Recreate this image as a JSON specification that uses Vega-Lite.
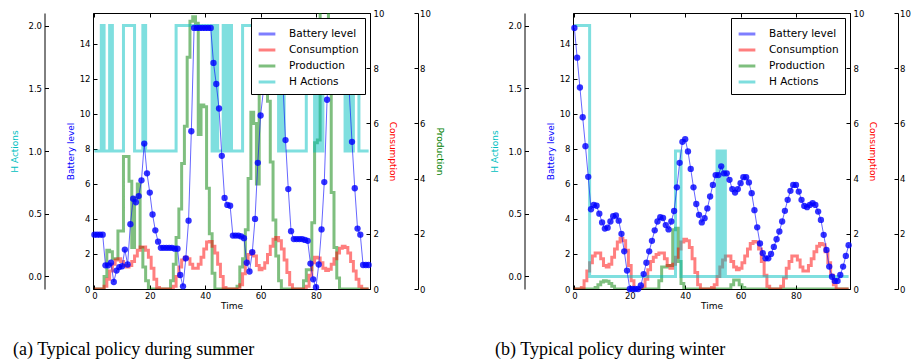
{
  "$schema": "https://vega.github.io/schema/vega-lite/v6.json",
  "padding": {"left": 10, "top": 8, "right": 0, "bottom": 0},
  "config": {
    "font": "DejaVu Sans",
    "view": {"stroke": "#000", "strokeWidth": 1},
    "axis": {"labelFont": "DejaVu Sans", "titleFont": "DejaVu Sans", "labelFontSize": 8.5, "titleFontSize": 9, "titleFontWeight": "normal", "labelColor": "#000", "titleColor": "#000", "domainColor": "#000", "tickColor": "#000", "grid": false, "tickSize": -4, "labelPadding": 7, "labelFlush": false, "domainWidth": 1, "tickWidth": 1},
    "legend": {"orient": "top-right", "offset": 5, "fillColor": "white", "strokeColor": "#000", "padding": 6, "labelFont": "DejaVu Sans", "labelFontSize": 10.5, "labelColor": "#000", "symbolType": "stroke", "symbolStrokeWidth": 3, "symbolSize": 280, "rowPadding": 0, "labelOffset": 12, "cornerRadius": 0}
  },
  "data": {"values": [
    {"s":"S","t":0,"b":3.1,"c":0,"p":0,"h":1},{"s":"S","t":1,"b":3.1,"c":0,"p":0,"h":1},{"s":"S","t":2,"b":3.1,"c":0,"p":0,"h":1},{"s":"S","t":3,"b":3.1,"c":0,"p":0,"h":2},{"s":"S","t":4,"b":1.35,"c":0.1,"p":0.45,"h":1},{"s":"S","t":5,"b":1.35,"c":0.35,"p":1.4,"h":1},{"s":"S","t":6,"b":1.5,"c":0.65,"p":1.35,"h":2},{"s":"S","t":7,"b":0.4,"c":0.9,"p":1.1,"h":1},{"s":"S","t":8,"b":1.05,"c":1.05,"p":1.1,"h":1},{"s":"S","t":9,"b":1.25,"c":1.1,"p":2.1,"h":1},
    {"s":"S","t":10,"b":1.3,"c":1.0,"p":2.1,"h":1},{"s":"S","t":11,"b":2.25,"c":0.85,"p":4.8,"h":2},{"s":"S","t":12,"b":1.4,"c":0.8,"p":4.8,"h":2},{"s":"S","t":13,"b":3.7,"c":0.85,"p":3.9,"h":2},{"s":"S","t":14,"b":5.15,"c":1.0,"p":1.5,"h":2},{"s":"S","t":15,"b":4.95,"c":1.2,"p":3.3,"h":1},{"s":"S","t":16,"b":5.3,"c":1.4,"p":3.8,"h":1},{"s":"S","t":17,"b":6.2,"c":1.52,"p":1.5,"h":1},{"s":"S","t":18,"b":8.3,"c":1.52,"p":0.8,"h":2},{"s":"S","t":19,"b":6.6,"c":1.4,"p":0.3,"h":1},
    {"s":"S","t":20,"b":5.5,"c":1.15,"p":0,"h":1},{"s":"S","t":21,"b":4.25,"c":0.75,"p":0,"h":1},{"s":"S","t":22,"b":3.35,"c":0.35,"p":0,"h":1},{"s":"S","t":23,"b":2.7,"c":0.05,"p":0,"h":1},{"s":"S","t":24,"b":2.35,"c":0,"p":0,"h":1},{"s":"S","t":25,"b":2.35,"c":0,"p":0,"h":1},{"s":"S","t":26,"b":2.35,"c":0,"p":0,"h":1},{"s":"S","t":27,"b":2.35,"c":0,"p":0,"h":1},{"s":"S","t":28,"b":2.35,"c":0,"p":0.3,"h":1},{"s":"S","t":29,"b":2.3,"c":0.1,"p":0.9,"h":1},
    {"s":"S","t":30,"b":2.3,"c":0.45,"p":1.87,"h":2},{"s":"S","t":31,"b":0.8,"c":0.8,"p":2.9,"h":2},{"s":"S","t":32,"b":0.15,"c":1.05,"p":4.55,"h":2},{"s":"S","t":33,"b":1.75,"c":1.15,"p":5.9,"h":2},{"s":"S","t":34,"b":3.9,"c":1.1,"p":8.4,"h":2},{"s":"S","t":35,"b":9.0,"c":0.9,"p":9.7,"h":2},{"s":"S","t":36,"b":14.9,"c":0.75,"p":9.86,"h":2},{"s":"S","t":37,"b":14.9,"c":0.75,"p":9.63,"h":2},{"s":"S","t":38,"b":14.9,"c":0.9,"p":5.6,"h":2},{"s":"S","t":39,"b":14.9,"c":1.15,"p":6.67,"h":2},
    {"s":"S","t":40,"b":14.9,"c":1.45,"p":6.6,"h":2},{"s":"S","t":41,"b":14.9,"c":1.7,"p":3.65,"h":2},{"s":"S","t":42,"b":14.9,"c":1.72,"p":2.0,"h":2},{"s":"S","t":43,"b":12.9,"c":1.55,"p":0.57,"h":1},{"s":"S","t":44,"b":11.7,"c":1.3,"p":0,"h":2},{"s":"S","t":45,"b":10.3,"c":0.9,"p":0,"h":1},{"s":"S","t":46,"b":7.6,"c":0.45,"p":0,"h":1},{"s":"S","t":47,"b":5.2,"c":0.05,"p":0,"h":2},{"s":"S","t":48,"b":4.8,"c":0,"p":0,"h":1},{"s":"S","t":49,"b":4.75,"c":0,"p":0,"h":2},
    {"s":"S","t":50,"b":3.05,"c":0,"p":0,"h":1},{"s":"S","t":51,"b":3.05,"c":0,"p":0,"h":1},{"s":"S","t":52,"b":3.05,"c":0,"p":0.1,"h":1},{"s":"S","t":53,"b":3.0,"c":0.15,"p":0.8,"h":1},{"s":"S","t":54,"b":2.9,"c":0.55,"p":1.1,"h":2},{"s":"S","t":55,"b":1.5,"c":0.95,"p":2.15,"h":2},{"s":"S","t":56,"b":1.0,"c":1.25,"p":4.0,"h":2},{"s":"S","t":57,"b":2.1,"c":1.35,"p":6.4,"h":2},{"s":"S","t":58,"b":4.0,"c":1.2,"p":6.0,"h":2},{"s":"S","t":59,"b":7.2,"c":0.85,"p":3.8,"h":2},
    {"s":"S","t":60,"b":9.9,"c":0.7,"p":8.1,"h":2},{"s":"S","t":61,"b":11.3,"c":0.75,"p":8.6,"h":2},{"s":"S","t":62,"b":13.5,"c":0.95,"p":8.3,"h":2},{"s":"S","t":63,"b":14.9,"c":1.25,"p":6.8,"h":2},{"s":"S","t":64,"b":14.9,"c":1.55,"p":4.6,"h":2},{"s":"S","t":65,"b":14.9,"c":1.8,"p":2.5,"h":2},{"s":"S","t":66,"b":14.9,"c":1.87,"p":1.2,"h":2},{"s":"S","t":67,"b":14.9,"c":1.75,"p":0.3,"h":1},{"s":"S","t":68,"b":12.0,"c":1.45,"p":0,"h":2},{"s":"S","t":69,"b":8.5,"c":1.05,"p":0,"h":1},
    {"s":"S","t":70,"b":5.7,"c":0.6,"p":0,"h":1},{"s":"S","t":71,"b":3.3,"c":0.15,"p":0,"h":1},{"s":"S","t":72,"b":2.85,"c":0,"p":0,"h":1},{"s":"S","t":73,"b":2.85,"c":0,"p":0,"h":1},{"s":"S","t":74,"b":2.85,"c":0,"p":0,"h":1},{"s":"S","t":75,"b":2.85,"c":0,"p":0,"h":1},{"s":"S","t":76,"b":2.8,"c":0,"p":0.3,"h":1},{"s":"S","t":77,"b":2.75,"c":0.1,"p":0.7,"h":2},{"s":"S","t":78,"b":1.45,"c":0.5,"p":0.7,"h":2},{"s":"S","t":79,"b":0.55,"c":0.95,"p":2.4,"h":2},
    {"s":"S","t":80,"b":0.1,"c":1.15,"p":5.3,"h":1},{"s":"S","t":81,"b":1.4,"c":1.12,"p":5.4,"h":2},{"s":"S","t":82,"b":3.4,"c":0.95,"p":10.5,"h":1},{"s":"S","t":83,"b":6.1,"c":0.75,"p":10.5,"h":2},{"s":"S","t":84,"b":10.8,"c":0.67,"p":10.5,"h":2},{"s":"S","t":85,"b":13.8,"c":0.72,"p":8.3,"h":2},{"s":"S","t":86,"b":14.9,"c":0.9,"p":3.5,"h":2},{"s":"S","t":87,"b":14.9,"c":1.1,"p":1.5,"h":2},{"s":"S","t":88,"b":14.9,"c":1.3,"p":0.4,"h":2},{"s":"S","t":89,"b":14.9,"c":1.48,"p":0,"h":2},
    {"s":"S","t":90,"b":14.9,"c":1.55,"p":0,"h":2},{"s":"S","t":91,"b":13.5,"c":1.5,"p":0,"h":1},{"s":"S","t":92,"b":11.3,"c":1.3,"p":0,"h":2},{"s":"S","t":93,"b":8.4,"c":1.0,"p":0,"h":1},{"s":"S","t":94,"b":5.75,"c":0.65,"p":0,"h":2},{"s":"S","t":95,"b":3.45,"c":0.35,"p":0,"h":2},{"s":"S","t":96,"b":3.1,"c":0.1,"p":0,"h":1},{"s":"S","t":97,"b":1.37,"c":0,"p":0,"h":1},{"s":"S","t":98,"b":1.37,"c":0,"p":0,"h":1},{"s":"S","t":99,"b":1.37,"c":0,"p":0,"h":1},
    {"s":"W","t":0,"b":14.9,"c":0,"p":0,"h":2},{"s":"W","t":1,"b":13.2,"c":0,"p":0,"h":2},{"s":"W","t":2,"b":11.5,"c":0,"p":0,"h":2},{"s":"W","t":3,"b":9.8,"c":0.05,"p":0,"h":2},{"s":"W","t":4,"b":8.15,"c":0.3,"p":0,"h":2},{"s":"W","t":5,"b":6.4,"c":0.65,"p":0,"h":2},{"s":"W","t":6,"b":4.55,"c":0.95,"p":0,"h":0},{"s":"W","t":7,"b":4.8,"c":1.2,"p":0,"h":0},{"s":"W","t":8,"b":4.75,"c":1.3,"p":0.05,"h":0},{"s":"W","t":9,"b":4.3,"c":1.3,"p":0.15,"h":0},
    {"s":"W","t":10,"b":3.8,"c":1.1,"p":0.25,"h":0},{"s":"W","t":11,"b":3.45,"c":0.85,"p":0.3,"h":0},{"s":"W","t":12,"b":3.5,"c":0.8,"p":0.28,"h":0},{"s":"W","t":13,"b":3.85,"c":0.9,"p":0.2,"h":0},{"s":"W","t":14,"b":4.15,"c":1.15,"p":0.1,"h":0},{"s":"W","t":15,"b":4.2,"c":1.45,"p":0,"h":0},{"s":"W","t":16,"b":3.9,"c":1.7,"p":0,"h":0},{"s":"W","t":17,"b":3.15,"c":1.84,"p":0,"h":0},{"s":"W","t":18,"b":2.15,"c":1.75,"p":0,"h":0},{"s":"W","t":19,"b":1.05,"c":1.4,"p":0,"h":0},
    {"s":"W","t":20,"b":0,"c":0.85,"p":0,"h":0},{"s":"W","t":21,"b":0,"c":0.3,"p":0,"h":0},{"s":"W","t":22,"b":0,"c":0,"p":0,"h":0},{"s":"W","t":23,"b":0,"c":0,"p":0,"h":0},{"s":"W","t":24,"b":0.2,"c":0,"p":0,"h":0},{"s":"W","t":25,"b":0.85,"c":0.1,"p":0,"h":0},{"s":"W","t":26,"b":1.5,"c":0.35,"p":0,"h":0},{"s":"W","t":27,"b":2.15,"c":0.7,"p":0,"h":0},{"s":"W","t":28,"b":2.75,"c":1.0,"p":0,"h":0},{"s":"W","t":29,"b":3.35,"c":1.15,"p":0,"h":0},
    {"s":"W","t":30,"b":3.85,"c":1.25,"p":0,"h":0},{"s":"W","t":31,"b":4.1,"c":1.3,"p":0.3,"h":0},{"s":"W","t":32,"b":4.05,"c":1.3,"p":0.8,"h":0},{"s":"W","t":33,"b":3.65,"c":1.1,"p":0.8,"h":0},{"s":"W","t":34,"b":3.4,"c":0.85,"p":0.85,"h":0},{"s":"W","t":35,"b":3.85,"c":0.75,"p":0.85,"h":0},{"s":"W","t":36,"b":4.45,"c":0.9,"p":2.15,"h":0},{"s":"W","t":37,"b":5.8,"c":1.15,"p":2.2,"h":1},{"s":"W","t":38,"b":7.2,"c":1.45,"p":1.0,"h":1},{"s":"W","t":39,"b":8.4,"c":1.7,"p":0.2,"h":0},
    {"s":"W","t":40,"b":8.55,"c":1.8,"p":0,"h":0},{"s":"W","t":41,"b":7.85,"c":1.75,"p":0,"h":0},{"s":"W","t":42,"b":6.85,"c":1.5,"p":0,"h":0},{"s":"W","t":43,"b":5.8,"c":1.1,"p":0,"h":0},{"s":"W","t":44,"b":4.85,"c":0.6,"p":0,"h":0},{"s":"W","t":45,"b":4.23,"c":0.15,"p":0,"h":0},{"s":"W","t":46,"b":3.8,"c":0,"p":0,"h":0},{"s":"W","t":47,"b":4.04,"c":0,"p":0,"h":0},{"s":"W","t":48,"b":4.6,"c":0,"p":0,"h":0},{"s":"W","t":49,"b":5.28,"c":0,"p":0,"h":0},
    {"s":"W","t":50,"b":5.94,"c":0.05,"p":0,"h":0},{"s":"W","t":51,"b":6.5,"c":0.15,"p":0,"h":0},{"s":"W","t":52,"b":6.5,"c":0.45,"p":0,"h":1},{"s":"W","t":53,"b":7.0,"c":0.8,"p":0,"h":0},{"s":"W","t":54,"b":6.6,"c":1.05,"p":0,"h":1},{"s":"W","t":55,"b":6.6,"c":1.2,"p":0,"h":0},{"s":"W","t":56,"b":6.23,"c":1.2,"p":0,"h":0},{"s":"W","t":57,"b":5.7,"c":1.0,"p":0.15,"h":0},{"s":"W","t":58,"b":5.5,"c":0.8,"p":0.33,"h":0},{"s":"W","t":59,"b":5.7,"c":0.7,"p":0.33,"h":0},
    {"s":"W","t":60,"b":6.04,"c":0.75,"p":0.15,"h":0},{"s":"W","t":61,"b":6.38,"c":0.95,"p":0.05,"h":0},{"s":"W","t":62,"b":6.38,"c":1.2,"p":0,"h":0},{"s":"W","t":63,"b":6.08,"c":1.45,"p":0,"h":0},{"s":"W","t":64,"b":5.47,"c":1.65,"p":0,"h":0},{"s":"W","t":65,"b":4.5,"c":1.72,"p":0,"h":0},{"s":"W","t":66,"b":3.52,"c":1.7,"p":0,"h":0},{"s":"W","t":67,"b":2.6,"c":1.45,"p":0,"h":0},{"s":"W","t":68,"b":2.04,"c":1.0,"p":0,"h":0},{"s":"W","t":69,"b":1.75,"c":0.5,"p":0,"h":0},
    {"s":"W","t":70,"b":1.75,"c":0.1,"p":0,"h":0},{"s":"W","t":71,"b":2.0,"c":0,"p":0,"h":0},{"s":"W","t":72,"b":2.4,"c":0,"p":0,"h":0},{"s":"W","t":73,"b":2.84,"c":0,"p":0,"h":0},{"s":"W","t":74,"b":3.28,"c":0,"p":0,"h":0},{"s":"W","t":75,"b":3.85,"c":0.1,"p":0,"h":0},{"s":"W","t":76,"b":4.46,"c":0.4,"p":0,"h":0},{"s":"W","t":77,"b":5.09,"c":0.75,"p":0,"h":0},{"s":"W","t":78,"b":5.6,"c":1.0,"p":0,"h":0},{"s":"W","t":79,"b":5.94,"c":1.2,"p":0,"h":0},
    {"s":"W","t":80,"b":5.94,"c":1.2,"p":0,"h":0},{"s":"W","t":81,"b":5.56,"c":1.05,"p":0,"h":0},{"s":"W","t":82,"b":5.09,"c":0.8,"p":0,"h":0},{"s":"W","t":83,"b":4.74,"c":0.65,"p":0,"h":0},{"s":"W","t":84,"b":4.67,"c":0.65,"p":0,"h":0},{"s":"W","t":85,"b":4.8,"c":0.85,"p":0,"h":0},{"s":"W","t":86,"b":4.9,"c":1.1,"p":0,"h":0},{"s":"W","t":87,"b":4.8,"c":1.35,"p":0,"h":0},{"s":"W","t":88,"b":4.42,"c":1.55,"p":0,"h":0},{"s":"W","t":89,"b":3.94,"c":1.65,"p":0,"h":0},
    {"s":"W","t":90,"b":3.09,"c":1.6,"p":0,"h":0},{"s":"W","t":91,"b":2.23,"c":1.35,"p":0,"h":0},{"s":"W","t":92,"b":1.28,"c":0.95,"p":0,"h":0},{"s":"W","t":93,"b":0.7,"c":0.5,"p":0,"h":0},{"s":"W","t":94,"b":0.46,"c":0.15,"p":0,"h":0},{"s":"W","t":95,"b":0.46,"c":0,"p":0,"h":0},{"s":"W","t":96,"b":0.8,"c":0,"p":0,"h":0},{"s":"W","t":97,"b":1.28,"c":0,"p":0,"h":0},{"s":"W","t":98,"b":1.89,"c":0,"p":0,"h":0},{"s":"W","t":99,"b":2.5,"c":0,"p":0,"h":0}
  ]},
  "spacing": 46,
  "resolve": {"legend": {"color": "independent"}},
  "hconcat": [
    {
      "width": 277, "height": 276,
      "title": {"text": "(a) Typical policy during summer", "orient": "bottom", "anchor": "start", "frame": "bounds", "font": "Liberation Serif", "fontSize": 18, "fontWeight": "normal", "color": "#000", "offset": 30, "dx": 2},
      "transform": [{"filter": "datum.s === 'S'"}],
      "resolve": {"scale": {"y": "independent"}, "axis": {"y": "independent", "x": "independent"}},
      "layer": [
        {
          "mark": {"type": "line", "interpolate": "step", "strokeWidth": 3, "opacity": 0.5, "clip": true},
          "encoding": {
            "x": {"field": "t", "type": "quantitative", "scale": {"domain": [-0.5, 99.5], "nice": false, "zero": false}, "axis": {"values": [0, 20, 40, 60, 80], "title": "Time", "titlePadding": 2, "labelPadding": 6}},
            "y": {"field": "p", "type": "quantitative", "scale": {"domain": [0, 10], "nice": false}, "axis": {"orient": "right", "offset": 48, "values": [0, 2, 4, 6, 8, 10], "title": "Production", "titleColor": "#008000", "titlePadding": 4, "labelPadding": 5.5}},
            "color": {"datum": "Production", "scale": {"domain": ["Battery level", "Consumption", "Production", "H Actions"], "range": ["#0000ff", "#ff0000", "#008000", "#00bfbf"]},
              "legend": {"title": null, "encode": {"symbols": {
                  "shape": {"condition": {"test": "datum.index === 0", "value": "M-1,0L1,0M-1,0a0.3,0.3 0 1,0 0.6,0a0.3,0.3 0 1,0 -0.6,0M0.4,0a0.3,0.3 0 1,0 0.6,0a0.3,0.3 0 1,0 -0.6,0"}, "value": "stroke"},
                  "fill": {"condition": {"test": "datum.index === 0", "value": "#0000ff"}, "value": "transparent"},
                  "strokeWidth": {"condition": {"test": "datum.index === 0", "value": 1.2}, "value": 3}}}}}
          }
        },
        {
          "mark": {"type": "line", "interpolate": "step", "strokeWidth": 3, "opacity": 0.5, "clip": true},
          "encoding": {
            "x": {"field": "t", "type": "quantitative", "axis": {"orient": "top", "values": [0, 20, 40, 60, 80], "labels": false, "title": null, "domain": false}},
            "y": {"field": "c", "type": "quantitative", "scale": {"domain": [0, 10], "nice": false}, "axis": {"orient": "right", "offset": 0, "values": [0, 2, 4, 6, 8, 10], "title": "Consumption", "titleColor": "#ff0000", "titlePadding": 4}},
            "color": {"datum": "Consumption"}
          }
        },
        {
          "mark": {"type": "line", "interpolate": "step", "strokeWidth": 3, "opacity": 0.5, "clip": true},
          "encoding": {
            "x": {"field": "t", "type": "quantitative", "axis": null},
            "y": {"field": "h", "type": "quantitative", "scale": {"domain": [-0.1, 2.1], "nice": false, "zero": false}, "axis": {"orient": "left", "offset": 48.5, "values": [0, 0.5, 1, 1.5, 2], "format": ".1f", "title": "H Actions", "titleColor": "#00bfbf", "titlePadding": 8}},
            "color": {"datum": "H Actions"}
          }
        },
        {
          "mark": {"type": "line", "strokeWidth": 1, "opacity": 0.6, "point": {"filled": true, "size": 40, "opacity": 0.8}},
          "encoding": {
            "x": {"field": "t", "type": "quantitative", "axis": null},
            "y": {"field": "b", "type": "quantitative", "scale": {"domain": [0, 15.75], "nice": false}, "axis": {"orient": "left", "offset": 0, "values": [0, 2, 4, 6, 8, 10, 12, 14], "title": "Battery level", "titleColor": "#0000ff", "titlePadding": 4}},
            "color": {"datum": "Battery level"}
          }
        }
      ]
    },
    {
      "width": 277, "height": 276,
      "title": {"text": "(b) Typical policy during winter", "orient": "bottom", "anchor": "start", "frame": "bounds", "font": "Liberation Serif", "fontSize": 18, "fontWeight": "normal", "color": "#000", "offset": 30, "dx": 4},
      "transform": [{"filter": "datum.s === 'W'"}],
      "resolve": {"scale": {"y": "independent"}, "axis": {"y": "independent", "x": "independent"}},
      "layer": [
        {
          "mark": {"type": "line", "interpolate": "step", "strokeWidth": 3, "opacity": 0.5, "clip": true},
          "encoding": {
            "x": {"field": "t", "type": "quantitative", "scale": {"domain": [-0.5, 99.5], "nice": false, "zero": false}, "axis": {"values": [0, 20, 40, 60, 80], "title": "Time", "titlePadding": 2, "labelPadding": 6}},
            "y": {"field": "p", "type": "quantitative", "scale": {"domain": [0, 10], "nice": false}, "axis": {"orient": "right", "offset": 48, "values": [0, 2, 4, 6, 8, 10], "title": null, "labelPadding": 5.5}},
            "color": {"datum": "Production", "scale": {"domain": ["Battery level", "Consumption", "Production", "H Actions"], "range": ["#0000ff", "#ff0000", "#008000", "#00bfbf"]},
              "legend": {"title": null, "encode": {"symbols": {
                  "shape": {"condition": {"test": "datum.index === 0", "value": "M-1,0L1,0M-1,0a0.3,0.3 0 1,0 0.6,0a0.3,0.3 0 1,0 -0.6,0M0.4,0a0.3,0.3 0 1,0 0.6,0a0.3,0.3 0 1,0 -0.6,0"}, "value": "stroke"},
                  "fill": {"condition": {"test": "datum.index === 0", "value": "#0000ff"}, "value": "transparent"},
                  "strokeWidth": {"condition": {"test": "datum.index === 0", "value": 1.2}, "value": 3}}}}}
          }
        },
        {
          "mark": {"type": "line", "interpolate": "step", "strokeWidth": 3, "opacity": 0.5, "clip": true},
          "encoding": {
            "x": {"field": "t", "type": "quantitative", "axis": {"orient": "top", "values": [0, 20, 40, 60, 80], "labels": false, "title": null, "domain": false}},
            "y": {"field": "c", "type": "quantitative", "scale": {"domain": [0, 10], "nice": false}, "axis": {"orient": "right", "offset": 0, "values": [0, 2, 4, 6, 8, 10], "title": "Consumption", "titleColor": "#ff0000", "titlePadding": 4}},
            "color": {"datum": "Consumption"}
          }
        },
        {
          "mark": {"type": "line", "interpolate": "step", "strokeWidth": 3, "opacity": 0.5, "clip": true},
          "encoding": {
            "x": {"field": "t", "type": "quantitative", "axis": null},
            "y": {"field": "h", "type": "quantitative", "scale": {"domain": [-0.1, 2.1], "nice": false, "zero": false}, "axis": {"orient": "left", "offset": 48.5, "values": [0, 0.5, 1, 1.5, 2], "format": ".1f", "title": "H Actions", "titleColor": "#00bfbf", "titlePadding": 8}},
            "color": {"datum": "H Actions"}
          }
        },
        {
          "mark": {"type": "line", "strokeWidth": 1, "opacity": 0.6, "point": {"filled": true, "size": 40, "opacity": 0.8}},
          "encoding": {
            "x": {"field": "t", "type": "quantitative", "axis": null},
            "y": {"field": "b", "type": "quantitative", "scale": {"domain": [0, 15.75], "nice": false}, "axis": {"orient": "left", "offset": 0, "values": [0, 2, 4, 6, 8, 10, 12, 14], "title": "Battery level", "titleColor": "#0000ff", "titlePadding": 4}},
            "color": {"datum": "Battery level"}
          }
        }
      ]
    }
  ]
}
